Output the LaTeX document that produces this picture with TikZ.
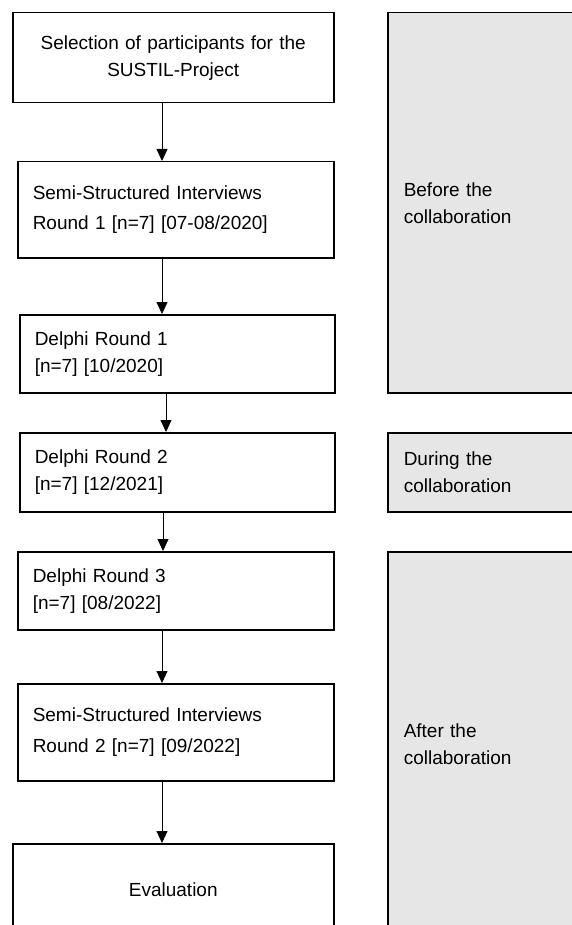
\documentclass[tikz,border=0pt]{standalone}
\usepackage{fontspec}
\setmainfont{Liberation Sans}
\usetikzlibrary{arrows.meta}
\definecolor{eragray}{HTML}{E6E6E6}

\begin{document}
\begin{tikzpicture}[x=1pt,y=-1pt,
                    box/.style={draw,line width=1.5pt,anchor=north west,inner xsep=15pt,
                                align=left,font=\fontsize{19}{27}\selectfont},
                    era/.style={box,fill=eragray,inner xsep=16pt,text width=171pt},
                    flow/.style={-{Triangle[length=12pt,width=11pt]},line width=0.8pt}]
                    \useasboundingbox (0,0) rectangle (571,925);
                    % phases of the collaboration
                    \node[era,minimum height=380pt] (before) at (387,12) {Before the\\collaboration};
                    \node[era,minimum height=79pt]  (during) at (387,432) {During the\\collaboration};
                    \node[era,minimum height=384pt] (after)  at (387,551) {After the\\collaboration};
                    % study steps
                    \node[box,text width=291pt,align=center,minimum height=90pt] (sel) at (12,12)
                        {Selection of participants for the\\SUSTIL-Project};
                    \node[box,text width=286pt,minimum height=96pt,font=\fontsize{19}{30}\selectfont] (ssi1) at (17,161)
                        {Semi-Structured Interviews\\Round 1 [n=7] [07-08/2020]};
                    \node[box,text width=285pt,minimum height=78pt] (del1) at (19,314) {Delphi Round 1\\{[n=7] [10/2020]}};
                    \node[box,text width=285pt,minimum height=79pt] (del2) at (19,432) {Delphi Round 2\\{[n=7] [12/2021]}};
                    \node[box,text width=286pt,minimum height=78pt] (del3) at (17,551) {Delphi Round 3\\{[n=7] [08/2022]}};
                    \node[box,text width=286pt,minimum height=97pt,font=\fontsize{19}{31}\selectfont] (ssi2) at (17,683)
                        {Semi-Structured Interviews\\Round 2 [n=7] [09/2022]};
                    \node[box,text width=291pt,align=center,minimum height=92pt] (eval) at (12,843) {Evaluation};
                    % arrows
                    \coordinate (ax) at (162,0);
                    \coordinate (bx) at (166,0);
                    \coordinate (cx) at (163,0);
                    \foreach \a/\b/\c in {sel/ssi1/ax,ssi1/del1/ax,del1/del2/bx,del2/del3/cx,del3/ssi2/ax,ssi2/eval/ax}
                        \draw[flow] (\a.south -| \c) -- (\b.north -| \c);
                \end{tikzpicture}
\end{document}
